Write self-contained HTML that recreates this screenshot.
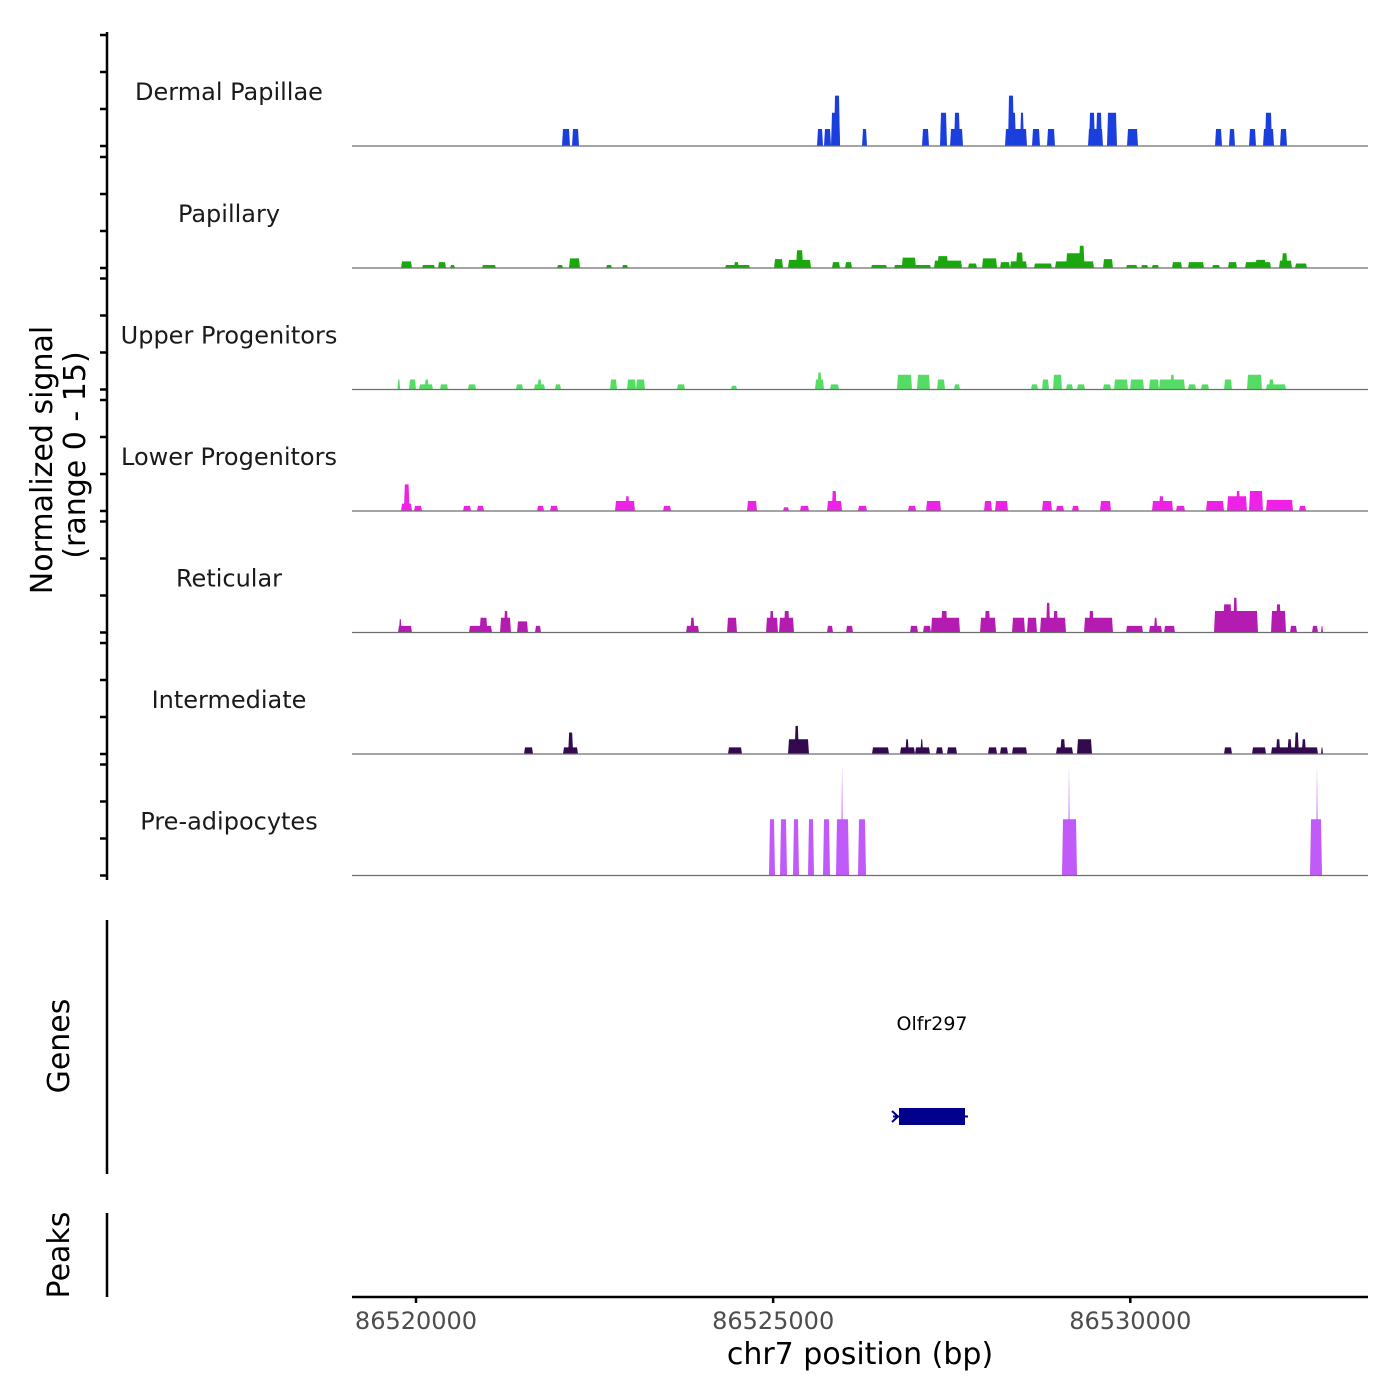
<!DOCTYPE html>
<html><head><meta charset="utf-8"><style>
html,body{margin:0;padding:0;background:#fff}
svg{display:block;font-family:"DejaVu Sans","Liberation Sans",sans-serif}
</style></head><body>
<svg id="chart" width="1400" height="1400" viewBox="0 0 1400 1400" xmlns="http://www.w3.org/2000/svg">
<g id="tracks"></g>
<g id="laxis"></g>
<text x="52" y="460" font-size="30" text-anchor="middle" transform="rotate(-90 52 460)" fill="#000">Normalized signal</text>
<text x="85" y="455" font-size="30" text-anchor="middle" transform="rotate(-90 85 455)" fill="#000">(range 0 - 15)</text>
<line x1="107" y1="920" x2="107" y2="1174" stroke="#000" stroke-width="2.5"/>
<text x="69" y="1046" font-size="30" text-anchor="middle" transform="rotate(-90 69 1046)">Genes</text>
<line x1="107" y1="1213" x2="107" y2="1297" stroke="#000" stroke-width="2.5"/>
<text x="69" y="1255" font-size="30" text-anchor="middle" transform="rotate(-90 69 1255)">Peaks</text>
<g id="genes"></g>
<g id="xaxis"></g>
<text x="860" y="1364" font-size="30" text-anchor="middle">chr7 position (bp)</text>
</svg>
<script>
const BASE = 86520000;
const trackNames = ["Dermal Papillae","Papillary","Upper Progenitors","Lower Progenitors","Reticular","Intermediate","Pre-adipocytes"];
const trackColors = ["#1a3fdc","#1aa80e","#55dc64","#ee22e6","#b41bb1","#33094f","#c05af8"];
const dermalPeaks = [[2044,2156,2.3],[2184,2282,2.3],[5614,5698,2.3],[5712,5810,2.3],[5810,5936,4.5],[5852,5936,6.8],[6244,6314,2.3],[7084,7182,2.3],[7336,7434,4.5],[7476,7658,2.3],[7532,7616,4.5],[8246,8554,2.3],[8288,8372,6.8],[8302,8400,4.5],[8456,8512,4.5],[8624,8736,2.3],[8834,8946,2.3],[9408,9618,2.3],[9422,9506,4.5],[9520,9604,4.5],[9674,9814,4.5],[9954,10108,2.3],[11186,11284,2.3],[11382,11466,2.3],[11662,11760,2.3],[11858,12012,2.3],[11886,11984,4.5],[12096,12194,2.3]];
const papillaryPeaks = [[-210,-56,0.9],[84,266,0.4],[308,420,0.8],[476,546,0.4],[924,1120,0.4],[1974,2058,0.4],[2142,2296,1.3],[2660,2744,0.4],[2884,2968,0.4],[4326,4676,0.4],[4450,4520,0.8],[5012,5138,1.2],[5208,5530,1.1],[5320,5420,2.4],[5824,5936,0.8],[6006,6104,0.8],[6370,6594,0.4],[6692,7210,0.4],[6800,7000,1.4],[7252,7644,1.0],[7300,7450,1.6],[7728,7854,0.6],[7924,8134,1.3],[8176,8316,0.8],[8316,8554,0.9],[8400,8500,2.1],[8652,8904,0.6],[8946,9492,0.9],[9100,9350,2.0],[9280,9360,3.0],[9618,9758,1.2],[9940,10100,0.4],[10150,10250,0.4],[10300,10402,0.4],[10584,10724,0.8],[10808,11032,0.8],[11144,11256,0.4],[11368,11494,0.8],[11606,11970,0.8],[11750,11900,1.1],[12082,12264,1.0],[12120,12200,2.0],[12306,12474,0.6]];
const upperPeaks = [[-260,-220,1.35],[-98,0,1.35],[42,238,0.7],[120,180,1.35],[336,448,0.7],[728,840,0.7],[1400,1498,0.7],[1652,1806,0.7],[1700,1760,1.35],[1946,2030,0.7],[2716,2814,1.35],[2954,3080,1.35],[3080,3206,1.35],[3654,3766,0.7],[4410,4494,0.5],[5586,5712,1.35],[5620,5680,2.3],[5796,5922,0.7],[6734,6944,2.0],[7014,7196,2.0],[7294,7406,1.35],[7532,7616,0.7],[8610,8708,0.7],[8764,8862,1.35],[8918,9044,2.0],[9100,9198,0.7],[9254,9366,0.7],[9618,9730,0.7],[9772,9968,1.35],[9996,10192,1.35],[10262,10402,1.35],[10402,10766,1.35],[10560,10620,2.0],[10808,10920,0.7],[10990,11102,0.7],[11312,11424,1.35],[11634,11844,2.0],[11900,12180,0.7],[11940,12010,1.35]];
const lowerPeaks = [[-210,-56,1.0],[-170,-90,3.6],[-28,84,0.7],[658,770,0.7],[854,952,0.7],[1694,1792,0.7],[1876,1988,0.7],[2786,3066,1.35],[2930,2990,2.0],[3458,3570,0.7],[4634,4774,1.35],[5138,5222,0.5],[5376,5502,0.7],[5754,5964,1.35],[5820,5890,2.7],[6188,6314,0.7],[6888,7000,0.7],[7140,7350,1.35],[7952,8064,1.35],[8106,8288,1.35],[8764,8904,1.35],[8960,9072,0.7],[9184,9282,0.7],[9576,9730,1.35],[10304,10598,1.35],[10400,10470,2.0],[10640,10766,0.7],[11060,11312,1.35],[11354,11634,2.0],[11480,11540,2.7],[11662,11858,2.7],[11900,12278,1.5],[12362,12460,0.7]];
const reticularPeaks = [[-252,-56,0.9],[-240,-200,1.8],[742,1064,0.9],[890,1000,2.0],[1176,1330,2.0],[1230,1290,2.9],[1414,1568,1.5],[1666,1750,0.9],[3780,3962,0.9],[3840,3900,2.0],[4354,4494,2.0],[4900,5068,2.0],[4950,5010,2.9],[5082,5292,2.0],[5150,5230,2.9],[5754,5838,0.9],[6020,6118,0.9],[6916,7028,0.9],[7098,7210,0.9],[7210,7616,2.0],[7350,7440,2.9],[7896,8120,2.0],[7960,8040,2.9],[8344,8526,2.0],[8554,8694,2.0],[8736,9100,2.0],[8820,8880,4.0],[8920,8990,2.9],[9352,9758,2.0],[9420,9490,2.9],[9940,10178,0.9],[10262,10444,0.9],[10330,10380,2.0],[10472,10626,0.9],[11172,11788,2.9],[11300,11420,3.8],[11440,11500,4.7],[11970,12180,2.9],[12040,12110,3.8],[12236,12334,0.9],[12544,12628,0.9],[12670,12698,0.9]];
const intermediatePeaks = [[1512,1638,0.9],[2058,2268,0.9],[2130,2200,2.9],[4368,4564,0.9],[5208,5502,2.0],[5300,5360,3.8],[6384,6622,0.9],[6776,6986,0.9],[6850,6900,2.0],[6986,7196,0.9],[7060,7100,2.0],[7280,7378,0.9],[7434,7574,0.9],[8008,8134,0.9],[8176,8288,0.9],[8344,8554,0.9],[8960,9198,0.9],[9020,9090,2.0],[9254,9464,2.0],[11312,11424,0.9],[11704,11900,0.9],[11970,12628,0.9],[12040,12100,2.0],[12200,12260,2.0],[12300,12360,2.9],[12400,12460,2.0],[12670,12698,0.9]];
const preadipoPeaks = [[4942,5026,7.6],[5096,5194,7.6],[5278,5362,7.6],[5488,5572,7.6],[5698,5796,7.6],[5880,6062,7.6],[5950,5980,14.9],[6188,6300,7.6],[9044,9254,7.6],[9128,9156,14.9],[12516,12684,7.6],[12600,12628,14.9]];
const allPeaks = [dermalPeaks,papillaryPeaks,upperPeaks,lowerPeaks,reticularPeaks,intermediatePeaks,preadipoPeaks];
const xTicks = [86520000,86525000,86530000];
const yTicks = [0,5,10,15];
const geneName = "Olfr297";
const geneStart = 86526762, geneEnd = 86527686;

const NS="http://www.w3.org/2000/svg";
function mk(tag, attrs, parent){const e=document.createElementNS(NS,tag);for(const k in attrs)e.setAttribute(k,attrs[k]);parent.appendChild(e);return e;}
const X0=352, X1=1368, D0=BASE-896, D1=BASE+13328;
function xs(bp){return X0+(bp-D0)/(D1-D0)*(X1-X0);}
const baselines=[146,268,389.5,511,632.5,754,875.5];
const trackH=111;
function ys(i,v){return baselines[i]-v/15*trackH;}

const tg=document.getElementById('tracks');
allPeaks.forEach((peaks,i)=>{
  const g=mk('g',{},tg);
  
  
  const lab=mk('text',{x:229,y:baselines[i]-46,'font-size':24,'text-anchor':'middle',fill:'#1a1a1a'},g);
  lab.textContent=trackNames[i];
  
  
  peaks.forEach(p=>{
    const a=xs(BASE+p[0]), b=xs(BASE+p[1]);
    const w=b-a, t=p[2]>7 && w<4 ? w/2 : Math.min(1,w/3);
    const y0=baselines[i], y1=ys(i,p[2]);
    const poly=mk('polygon',{points:`${a},${y0} ${a+t},${y1} ${b-t},${y1} ${b},${y0}`,fill:trackColors[i]},g);
    
    
  });
  const bl=mk('line',{x1:X0,x2:X1,y1:baselines[i],y2:baselines[i],stroke:'#6e6e6e','stroke-width':1.2},g);
  
  
});

const la=document.getElementById('laxis');
const al=mk('line',{x1:107,x2:107,y1:32,y2:880,stroke:'#000','stroke-width':2.5},la);


baselines.forEach((b,i)=>{yTicks.forEach(v=>{
  const tk=mk('line',{x1:100,x2:107,y1:ys(i,v),y2:ys(i,v),stroke:'#000','stroke-width':2.5},la);
  
  
});});

const gg=document.getElementById('genes');
const gx0=xs(geneStart), gx1=xs(geneEnd);
const gr=mk('rect',{x:gx0,y:1108,width:gx1-gx0,height:17,fill:'#00008b'},gg);


const gl=mk('line',{x1:gx0-6,x2:gx1+3,y1:1116.5,y2:1116.5,stroke:'#00008b','stroke-width':2},gg);


const ga=mk('path',{d:`M${gx0-7},1111 L${gx0-1},1116.5 L${gx0-7},1122`,stroke:'#00008b','stroke-width':2,fill:'none'},gg);


const gt=mk('text',{x:(gx0+gx1)/2,y:1030,'font-size':19,'text-anchor':'middle'},gg);
gt.textContent=geneName;



const xa=document.getElementById('xaxis');
const xl=mk('line',{x1:X0,x2:X1,y1:1297,y2:1297,stroke:'#000','stroke-width':2.5},xa);


xTicks.forEach(v=>{
  const tk=mk('line',{x1:xs(v),x2:xs(v),y1:1297,y2:1303,stroke:'#000','stroke-width':2.5},xa);
  
  
  const t=mk('text',{x:xs(v),y:1329,'font-size':24,'text-anchor':'middle',fill:'#4d4d4d'},xa);
  t.textContent=String(v);
  
  
});
</script>
</body></html>
